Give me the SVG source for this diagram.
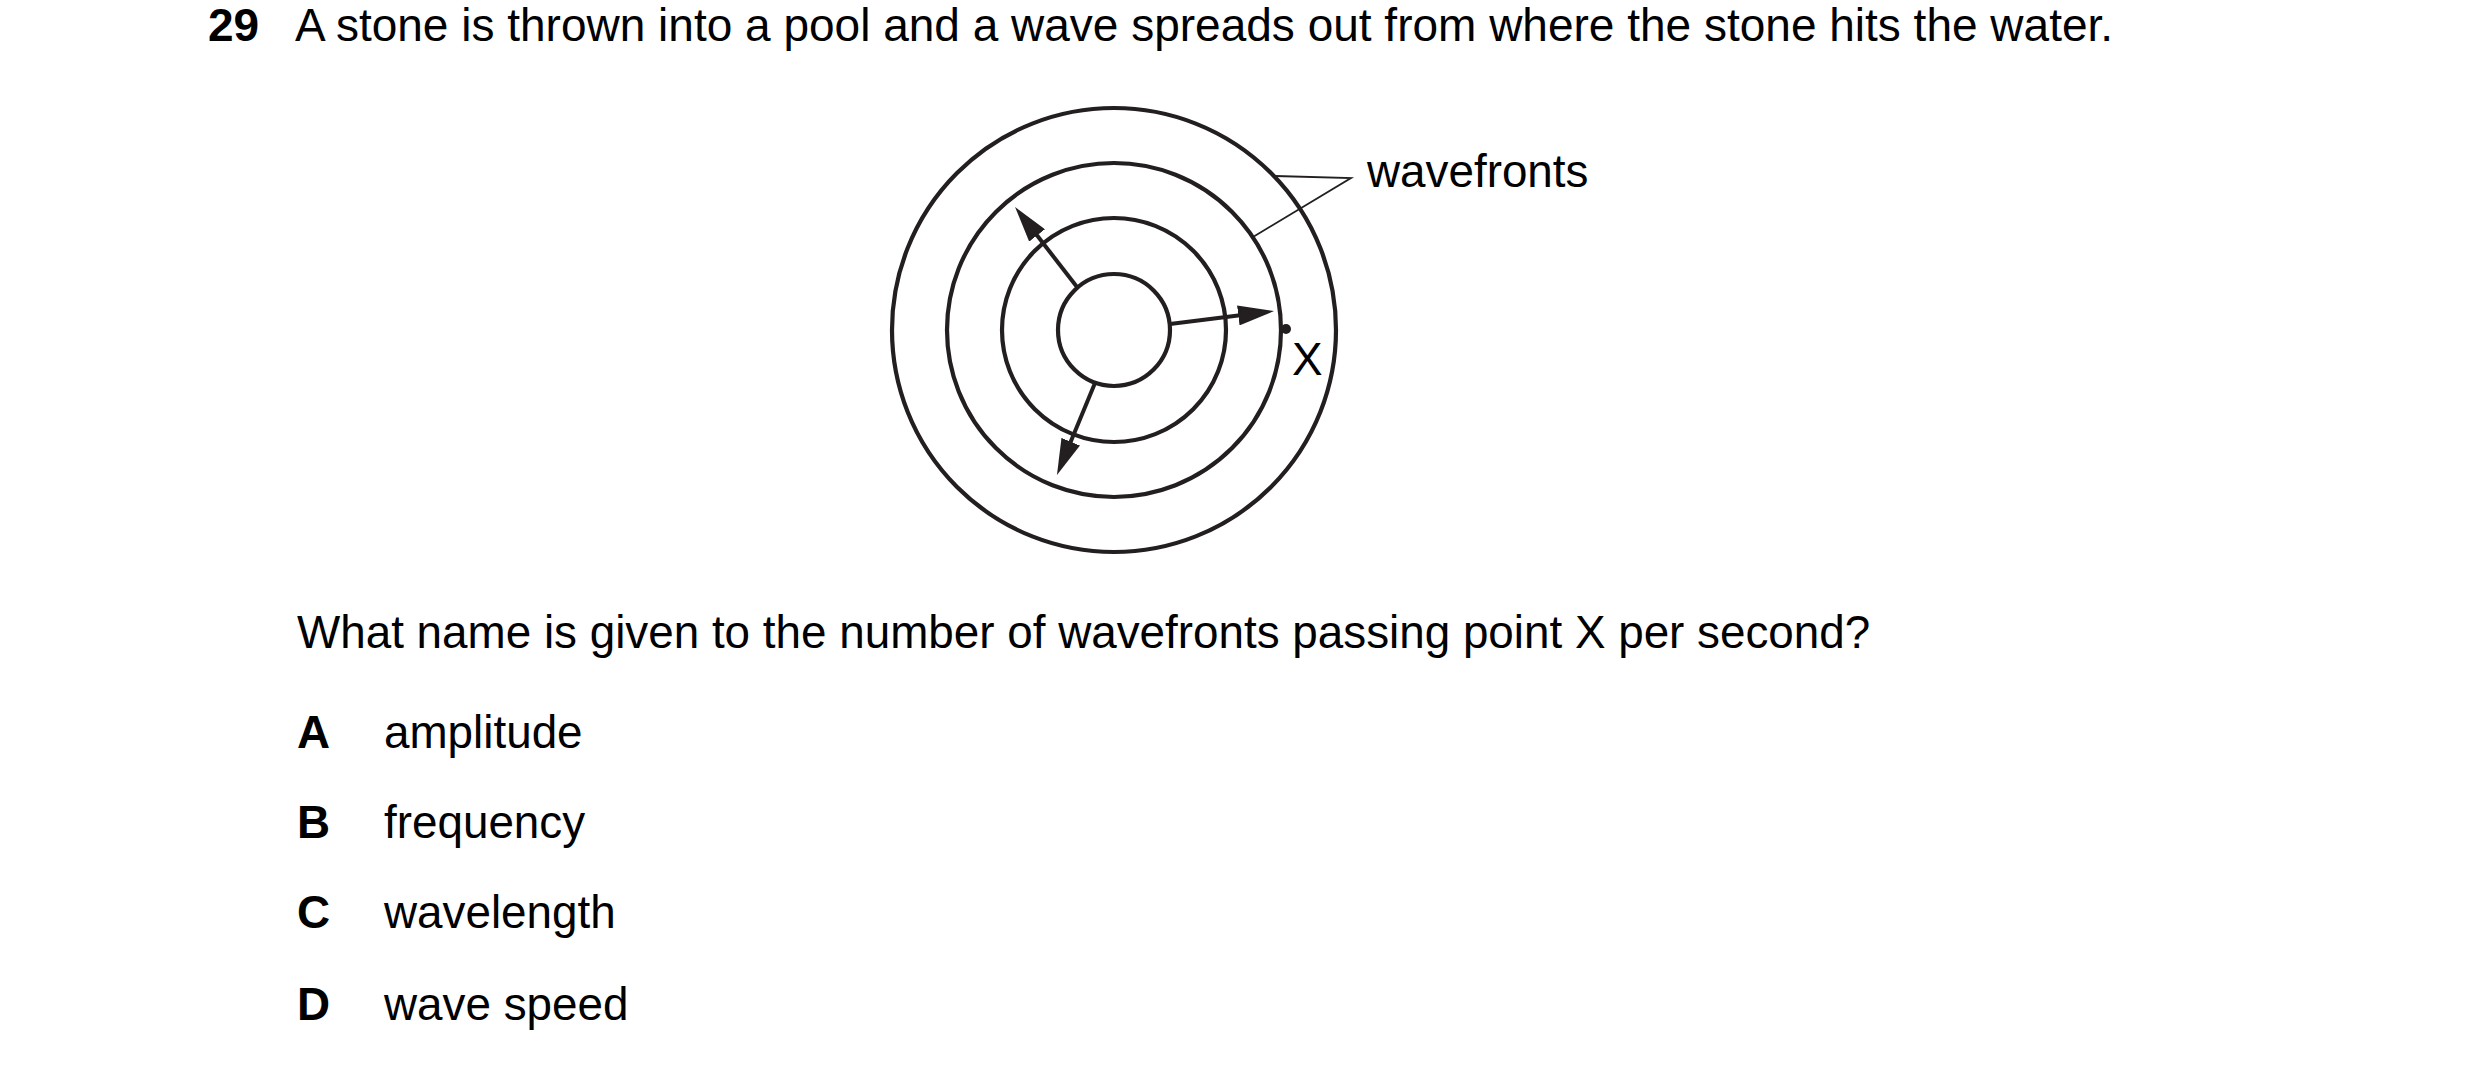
<svg xmlns="http://www.w3.org/2000/svg" width="2480" height="1067" viewBox="0 0 2480 1067">
  <defs>
    <style>
      .t { font-family: "Liberation Sans", Arial, sans-serif; font-size: 45.8px; fill: #000; }
      .big { font-size: 46px; }
      .b { font-weight: bold; }
      .wf { fill: none; stroke: #231f20; stroke-width: 4.2; }
      .arr { fill: none; stroke: #231f20; stroke-width: 4; marker-end: url(#head); }
      .lead { fill: none; stroke: #231f20; stroke-width: 1.8; }
    </style>
    <marker id="head" viewBox="0 0 36 20" refX="16" refY="10" markerWidth="36" markerHeight="20" markerUnits="userSpaceOnUse" orient="auto">
      <path d="M0,0 L36,10 L0,20 Z" fill="#231f20"/>
    </marker>
  </defs>
  <rect width="2480" height="1067" fill="#fff"/>

  <g id="question">
    <text class="t big b" x="208" y="41">29</text>
    <text class="t big" x="295" y="41">A stone is thrown into a pool and a wave spreads out from where the stone hits the water.</text>
  </g>

  <g id="wavefronts-diagram">
    <circle class="wf" cx="1114" cy="330" r="56"/>
    <circle class="wf" cx="1114" cy="330" r="112"/>
    <circle class="wf" cx="1114" cy="330" r="167"/>
    <circle class="wf" cx="1114" cy="330" r="222"/>
  </g>

  <g id="connectors">
    <path class="arr" d="M1170,324 L1254.2,313.5"/>
    <path class="arr" d="M1077,287 L1027.3,222.8"/>
    <path class="arr" d="M1095,383 L1064.6,456.5"/>
    <path class="lead" d="M1275,176 L1351,178 L1253,237"/>
  </g>

  <g id="point-x">
    <circle cx="1286" cy="329" r="5" fill="#231f20"/>
    <text class="t" x="1292" y="375">X</text>
  </g>

  <g id="label-wavefronts">
    <text class="t" x="1367" y="187">wavefronts</text>
  </g>

  <g id="prompt">
    <text class="t" x="297" y="648">What name is given to the number of wavefronts passing point X per second?</text>
  </g>

  <g id="options">
    <text class="t b" x="297" y="748">A</text>
    <text class="t" x="384" y="748">amplitude</text>
    <text class="t b" x="297" y="838">B</text>
    <text class="t" x="384" y="838">frequency</text>
    <text class="t b" x="297" y="928">C</text>
    <text class="t" x="384" y="928">wavelength</text>
    <text class="t b" x="297" y="1020">D</text>
    <text class="t" x="384" y="1020">wave speed</text>
  </g>
</svg>
